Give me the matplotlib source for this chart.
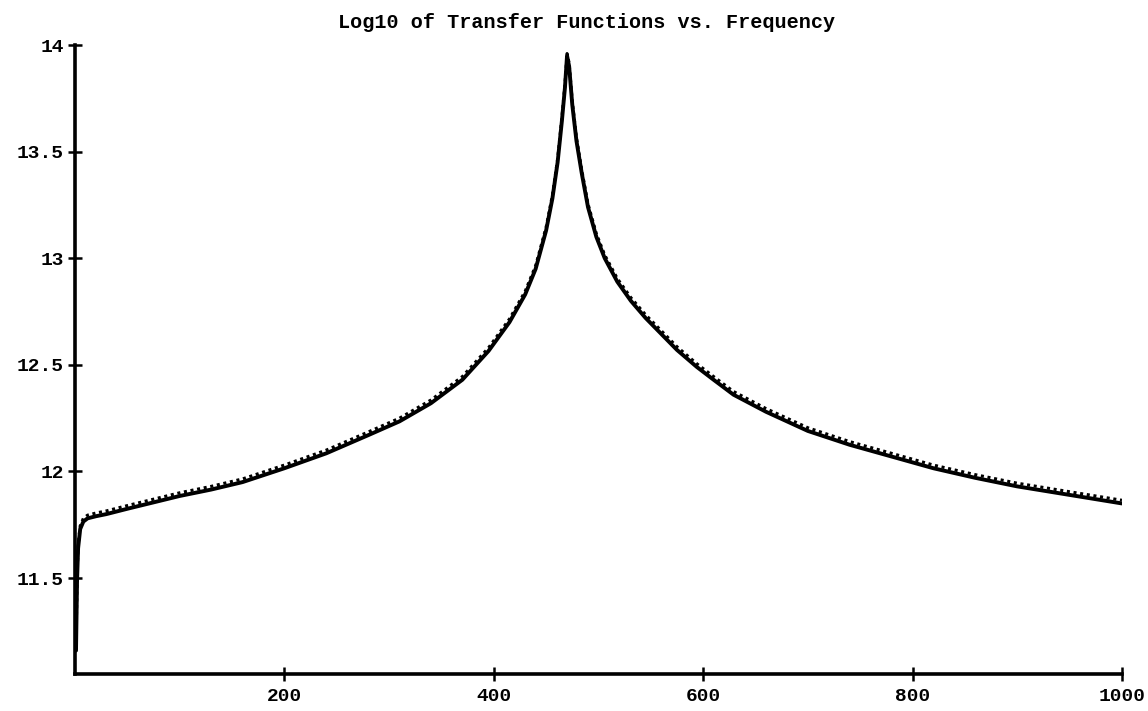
import matplotlib
matplotlib.use("Agg")
import matplotlib.pyplot as plt

# ------------------------------------------------------------
# Transfer function magnitudes (log10) vs. frequency
# ------------------------------------------------------------
freq = [1, 2, 3, 5, 8, 12, 20, 30, 50, 75,
        100, 130, 160, 200, 240, 280, 310, 340, 370, 395,
        415, 430, 440, 450, 456, 461, 465, 468, 470,
        472, 475, 479, 484, 490, 498, 506, 518, 531, 545,
        559, 575, 594, 610, 629, 660, 700, 740, 780, 820,
        860, 900, 950, 1000]

tf_measured = [11.16, 11.49, 11.64, 11.73, 11.765, 11.78, 11.79, 11.80, 11.825, 11.855,
               11.885, 11.915, 11.95, 12.015, 12.085, 12.17, 12.235, 12.32, 12.43, 12.565,
               12.70, 12.83, 12.95, 13.13, 13.28, 13.45, 13.64, 13.80, 13.95,
               13.90, 13.72, 13.55, 13.40, 13.24, 13.10, 13.00, 12.89, 12.80, 12.72,
               12.65, 12.57, 12.49, 12.43, 12.36, 12.28, 12.19, 12.125, 12.07, 12.015,
               11.97, 11.93, 11.89, 11.85]

tf_model = [11.17, 11.505, 11.655, 11.745, 11.78, 11.795, 11.805, 11.815, 11.84, 11.87,
            11.90, 11.93, 11.965, 12.03, 12.10, 12.185, 12.25, 12.335, 12.445, 12.58,
            12.715, 12.845, 12.965, 13.145, 13.295, 13.465, 13.655, 13.815, 13.96,
            13.915, 13.735, 13.565, 13.415, 13.255, 13.115, 13.015, 12.905, 12.815, 12.735,
            12.665, 12.585, 12.505, 12.445, 12.375, 12.295, 12.205, 12.14, 12.085, 12.03,
            11.985, 11.945, 11.905, 11.865]

xticks = [200, 400, 600, 800, 1000]
yticks = [11.5, 12, 12.5, 13, 13.5, 14]
ytick_labels = ["11.5", "12", "12.5", "13", "13.5", "14"]

# ------------------------------------------------------------
# Plot configuration
# ------------------------------------------------------------
plt.rcParams["font.family"] = ["Liberation Mono", "DejaVu Sans Mono"]
plt.rcParams["font.weight"] = "bold"

fig = plt.figure(figsize=(11.48, 7.11), dpi=100)
ax = fig.add_axes([0.0653, 0.052, 0.9120, 0.8847])

ax.plot(freq, tf_measured, color="black", linewidth=2.8,
        solid_joinstyle="round", solid_capstyle="round")
ax.plot(freq, tf_model, color="black", linewidth=2.2, linestyle=(0, (1, 1.2)))

ax.set_xlim(0, 1000)
ax.set_ylim(11.05, 14)

ax.set_xticks(xticks)
ax.set_xticklabels([str(t) for t in xticks])
ax.set_yticks(yticks)
ax.set_yticklabels(ytick_labels)

for side in ["top", "right"]:
    ax.spines[side].set_visible(False)
for side in ["left", "bottom"]:
    ax.spines[side].set_linewidth(2.6)

ax.tick_params(axis="both", direction="inout", length=10, width=1.8,
               labelsize=14, colors="black")
ax.tick_params(axis="x", pad=5)
ax.tick_params(axis="y", pad=3)

fig.text(0.511, 0.968, "Log10 of Transfer Functions vs. Frequency",
         ha="center", va="center", fontsize=14.5, fontweight="bold")

# ------------------------------------------------------------
# Save figure
# ------------------------------------------------------------
fig.savefig("out.png", dpi=100)
